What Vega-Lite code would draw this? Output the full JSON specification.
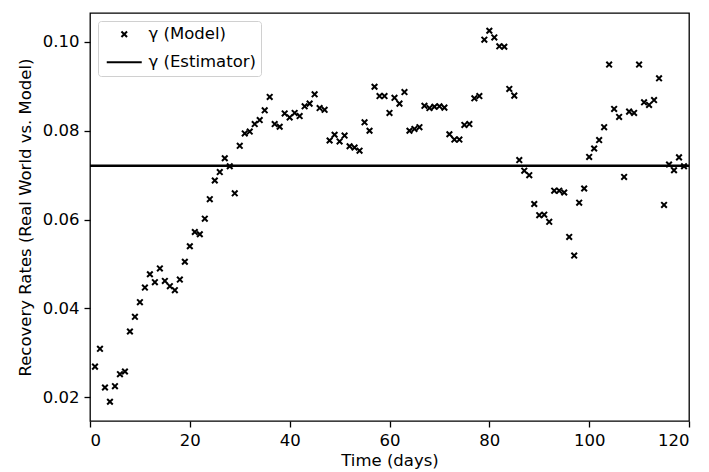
{
  "$schema": "https://vega.github.io/schema/vega-lite/v6.json",
  "width": 599,
  "height": 408,
  "autosize": {"type": "none"},
  "padding": {"left": 90, "top": 13, "right": 20, "bottom": 51},
  "background": "white",
  "config": {
    "font": "DejaVu Sans",
    "view": {"stroke": "black", "strokeWidth": 1.3},
    "axis": {
      "domain": false,
      "grid": false,
      "tickColor": "black",
      "tickWidth": 1.3,
      "tickSize": 6,
      "labelColor": "black",
      "labelFontSize": 16.5,
      "labelPadding": 5,
      "titleColor": "black",
      "titleFontSize": 16.5,
      "titleFontWeight": "normal"
    }
  },
  "datasets": {
    "model": [
      {"day": 1, "gamma": 0.0269, "series": "γ (Model)"},
      {"day": 2, "gamma": 0.0309, "series": "γ (Model)"},
      {"day": 3, "gamma": 0.0222, "series": "γ (Model)"},
      {"day": 4, "gamma": 0.0190, "series": "γ (Model)"},
      {"day": 5, "gamma": 0.0225, "series": "γ (Model)"},
      {"day": 6, "gamma": 0.0252, "series": "γ (Model)"},
      {"day": 7, "gamma": 0.0258, "series": "γ (Model)"},
      {"day": 8, "gamma": 0.0348, "series": "γ (Model)"},
      {"day": 9, "gamma": 0.0381, "series": "γ (Model)"},
      {"day": 10, "gamma": 0.0414, "series": "γ (Model)"},
      {"day": 11, "gamma": 0.0447, "series": "γ (Model)"},
      {"day": 12, "gamma": 0.0477, "series": "γ (Model)"},
      {"day": 13, "gamma": 0.0459, "series": "γ (Model)"},
      {"day": 14, "gamma": 0.0490, "series": "γ (Model)"},
      {"day": 15, "gamma": 0.0462, "series": "γ (Model)"},
      {"day": 16, "gamma": 0.0450, "series": "γ (Model)"},
      {"day": 17, "gamma": 0.0441, "series": "γ (Model)"},
      {"day": 18, "gamma": 0.0465, "series": "γ (Model)"},
      {"day": 19, "gamma": 0.0505, "series": "γ (Model)"},
      {"day": 20, "gamma": 0.0540, "series": "γ (Model)"},
      {"day": 21, "gamma": 0.0572, "series": "γ (Model)"},
      {"day": 22, "gamma": 0.0567, "series": "γ (Model)"},
      {"day": 23, "gamma": 0.0602, "series": "γ (Model)"},
      {"day": 24, "gamma": 0.0646, "series": "γ (Model)"},
      {"day": 25, "gamma": 0.0688, "series": "γ (Model)"},
      {"day": 26, "gamma": 0.0707, "series": "γ (Model)"},
      {"day": 27, "gamma": 0.0738, "series": "γ (Model)"},
      {"day": 28, "gamma": 0.0720, "series": "γ (Model)"},
      {"day": 29, "gamma": 0.0659, "series": "γ (Model)"},
      {"day": 30, "gamma": 0.0766, "series": "γ (Model)"},
      {"day": 31, "gamma": 0.0794, "series": "γ (Model)"},
      {"day": 32, "gamma": 0.0798, "series": "γ (Model)"},
      {"day": 33, "gamma": 0.0815, "series": "γ (Model)"},
      {"day": 34, "gamma": 0.0824, "series": "γ (Model)"},
      {"day": 35, "gamma": 0.0846, "series": "γ (Model)"},
      {"day": 36, "gamma": 0.0876, "series": "γ (Model)"},
      {"day": 37, "gamma": 0.0815, "series": "γ (Model)"},
      {"day": 38, "gamma": 0.0809, "series": "γ (Model)"},
      {"day": 39, "gamma": 0.0839, "series": "γ (Model)"},
      {"day": 40, "gamma": 0.0830, "series": "γ (Model)"},
      {"day": 41, "gamma": 0.0840, "series": "γ (Model)"},
      {"day": 42, "gamma": 0.0833, "series": "γ (Model)"},
      {"day": 43, "gamma": 0.0855, "series": "γ (Model)"},
      {"day": 44, "gamma": 0.0861, "series": "γ (Model)"},
      {"day": 45, "gamma": 0.0882, "series": "γ (Model)"},
      {"day": 46, "gamma": 0.0851, "series": "γ (Model)"},
      {"day": 47, "gamma": 0.0847, "series": "γ (Model)"},
      {"day": 48, "gamma": 0.0778, "series": "γ (Model)"},
      {"day": 49, "gamma": 0.0791, "series": "γ (Model)"},
      {"day": 50, "gamma": 0.0776, "series": "γ (Model)"},
      {"day": 51, "gamma": 0.0789, "series": "γ (Model)"},
      {"day": 52, "gamma": 0.0765, "series": "γ (Model)"},
      {"day": 53, "gamma": 0.0762, "series": "γ (Model)"},
      {"day": 54, "gamma": 0.0755, "series": "γ (Model)"},
      {"day": 55, "gamma": 0.0819, "series": "γ (Model)"},
      {"day": 56, "gamma": 0.0800, "series": "γ (Model)"},
      {"day": 57, "gamma": 0.0899, "series": "γ (Model)"},
      {"day": 58, "gamma": 0.0878, "series": "γ (Model)"},
      {"day": 59, "gamma": 0.0878, "series": "γ (Model)"},
      {"day": 60, "gamma": 0.0840, "series": "γ (Model)"},
      {"day": 61, "gamma": 0.0874, "series": "γ (Model)"},
      {"day": 62, "gamma": 0.0861, "series": "γ (Model)"},
      {"day": 63, "gamma": 0.0887, "series": "γ (Model)"},
      {"day": 64, "gamma": 0.0800, "series": "γ (Model)"},
      {"day": 65, "gamma": 0.0804, "series": "γ (Model)"},
      {"day": 66, "gamma": 0.0808, "series": "γ (Model)"},
      {"day": 67, "gamma": 0.0856, "series": "γ (Model)"},
      {"day": 68, "gamma": 0.0851, "series": "γ (Model)"},
      {"day": 69, "gamma": 0.0854, "series": "γ (Model)"},
      {"day": 70, "gamma": 0.0855, "series": "γ (Model)"},
      {"day": 71, "gamma": 0.0852, "series": "γ (Model)"},
      {"day": 72, "gamma": 0.0792, "series": "γ (Model)"},
      {"day": 73, "gamma": 0.0780, "series": "γ (Model)"},
      {"day": 74, "gamma": 0.0780, "series": "γ (Model)"},
      {"day": 75, "gamma": 0.0813, "series": "γ (Model)"},
      {"day": 76, "gamma": 0.0815, "series": "γ (Model)"},
      {"day": 77, "gamma": 0.0873, "series": "γ (Model)"},
      {"day": 78, "gamma": 0.0878, "series": "γ (Model)"},
      {"day": 79, "gamma": 0.1005, "series": "γ (Model)"},
      {"day": 80, "gamma": 0.1025, "series": "γ (Model)"},
      {"day": 81, "gamma": 0.1010, "series": "γ (Model)"},
      {"day": 82, "gamma": 0.0990, "series": "γ (Model)"},
      {"day": 83, "gamma": 0.0989, "series": "γ (Model)"},
      {"day": 84, "gamma": 0.0894, "series": "γ (Model)"},
      {"day": 85, "gamma": 0.0879, "series": "γ (Model)"},
      {"day": 86, "gamma": 0.0734, "series": "γ (Model)"},
      {"day": 87, "gamma": 0.0710, "series": "γ (Model)"},
      {"day": 88, "gamma": 0.0700, "series": "γ (Model)"},
      {"day": 89, "gamma": 0.0635, "series": "γ (Model)"},
      {"day": 90, "gamma": 0.0610, "series": "γ (Model)"},
      {"day": 91, "gamma": 0.0611, "series": "γ (Model)"},
      {"day": 92, "gamma": 0.0595, "series": "γ (Model)"},
      {"day": 93, "gamma": 0.0665, "series": "γ (Model)"},
      {"day": 94, "gamma": 0.0665, "series": "γ (Model)"},
      {"day": 95, "gamma": 0.0661, "series": "γ (Model)"},
      {"day": 96, "gamma": 0.0561, "series": "γ (Model)"},
      {"day": 97, "gamma": 0.0519, "series": "γ (Model)"},
      {"day": 98, "gamma": 0.0638, "series": "γ (Model)"},
      {"day": 99, "gamma": 0.0670, "series": "γ (Model)"},
      {"day": 100, "gamma": 0.0741, "series": "γ (Model)"},
      {"day": 101, "gamma": 0.0760, "series": "γ (Model)"},
      {"day": 102, "gamma": 0.0779, "series": "γ (Model)"},
      {"day": 103, "gamma": 0.0808, "series": "γ (Model)"},
      {"day": 104, "gamma": 0.0949, "series": "γ (Model)"},
      {"day": 105, "gamma": 0.0849, "series": "γ (Model)"},
      {"day": 106, "gamma": 0.0831, "series": "γ (Model)"},
      {"day": 107, "gamma": 0.0696, "series": "γ (Model)"},
      {"day": 108, "gamma": 0.0843, "series": "γ (Model)"},
      {"day": 109, "gamma": 0.0840, "series": "γ (Model)"},
      {"day": 110, "gamma": 0.0949, "series": "γ (Model)"},
      {"day": 111, "gamma": 0.0864, "series": "γ (Model)"},
      {"day": 112, "gamma": 0.0858, "series": "γ (Model)"},
      {"day": 113, "gamma": 0.0869, "series": "γ (Model)"},
      {"day": 114, "gamma": 0.0918, "series": "γ (Model)"},
      {"day": 115, "gamma": 0.0633, "series": "γ (Model)"},
      {"day": 116, "gamma": 0.0724, "series": "γ (Model)"},
      {"day": 117, "gamma": 0.0711, "series": "γ (Model)"},
      {"day": 118, "gamma": 0.0740, "series": "γ (Model)"},
      {"day": 119, "gamma": 0.0720, "series": "γ (Model)"}
    ],
    "estimator": [
      {"gamma": 0.0721}
    ]
  },
  "layer": [
    {
      "data": {"name": "model"},
      "mark": {"type": "point", "filled": false, "color": "black", "size": 49, "opacity": 1},
      "encoding": {
        "x": {
          "field": "day", "type": "quantitative",
          "scale": {"domain": [0, 120], "nice": false, "zero": false},
          "axis": {"title": "Time (days)", "values": [0, 20, 40, 60, 80, 100, 120], "format": "d", "titlePadding": 4}
        },
        "y": {
          "field": "gamma", "type": "quantitative",
          "scale": {"domain": [0.01466, 0.1065], "nice": false, "zero": false},
          "axis": {"title": "Recovery Rates (Real World vs. Model)", "values": [0.02, 0.04, 0.06, 0.08, 0.10], "format": ".2f", "titlePadding": 9}
        },
        "shape": {
          "field": "series", "type": "nominal",
          "scale": {"domain": ["γ (Model)", "γ (Estimator)"], "range": ["M-0.8,-0.8L0.8,0.8M-0.8,0.8L0.8,-0.8", "M-5,0L5,0"]},
          "legend": {
            "title": null,
            "orient": "top-left",
            "offset": 8,
            "padding": 5,
            "fillColor": "white",
            "strokeColor": "#d0d0d0",
            "cornerRadius": 3,
            "symbolSize": 49,
            "symbolStrokeColor": "black",
            "symbolFillColor": "transparent",
            "symbolStrokeWidth": 2,
            "symbolOffset": 13,
            "labelOffset": 16,
            "labelFontSize": 16.5,
            "labelColor": "black",
            "labelFont": "DejaVu Sans",
            "rowPadding": 11,
            "labelLimit": 300
          }
        }
      }
    },
    {
      "data": {"name": "estimator"},
      "mark": {"type": "rule", "color": "black", "strokeWidth": 2.5},
      "encoding": {
        "y": {"field": "gamma", "type": "quantitative"}
      }
    }
  ]
}
